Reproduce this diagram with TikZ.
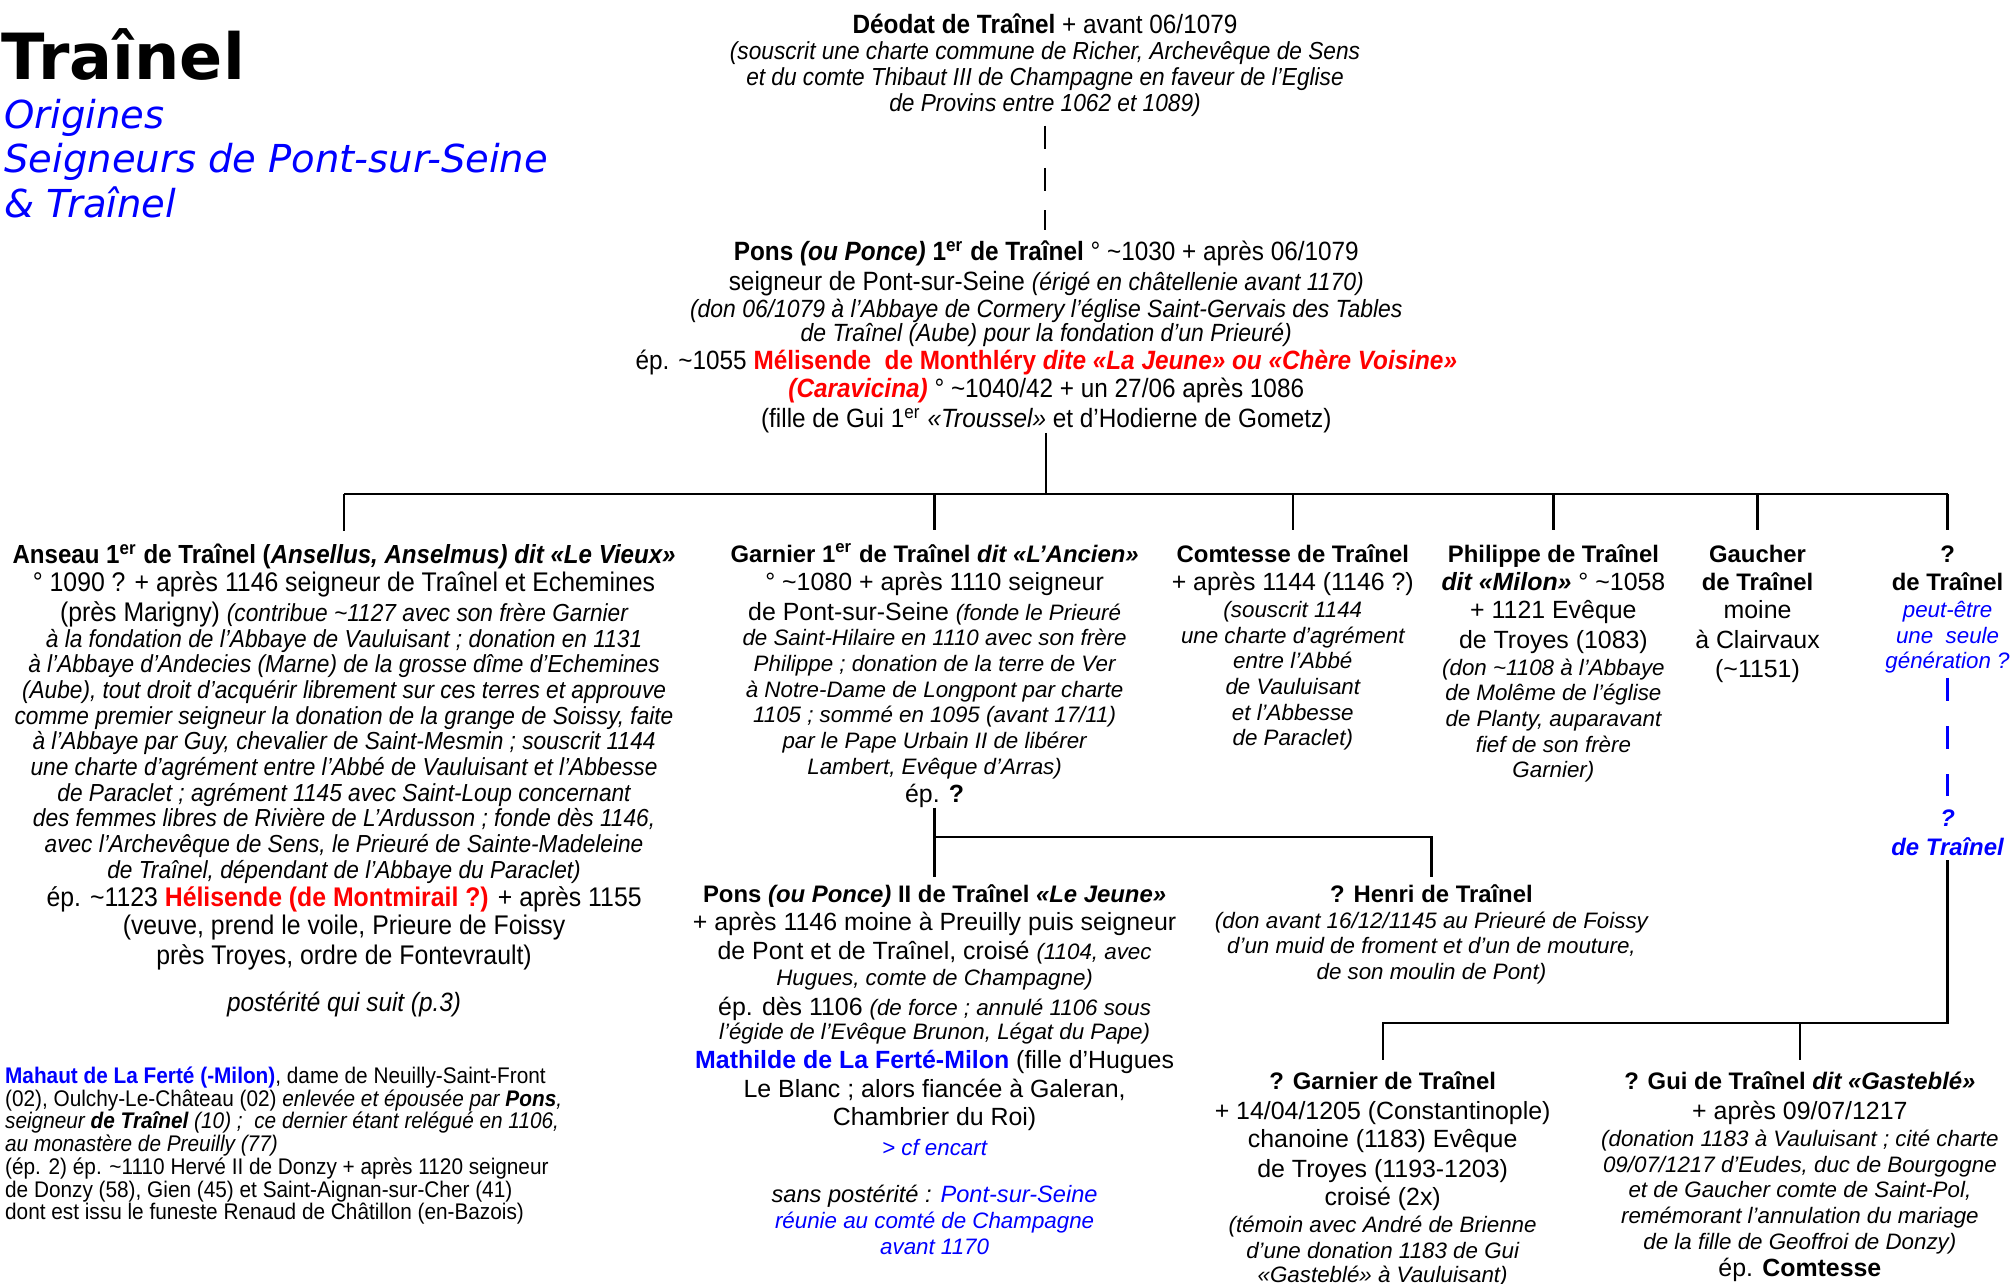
\documentclass[tikz,border=0pt]{standalone}
\usepackage{fontspec}
\setmainfont{Liberation Sans}
\newfontfamily\nar[FakeStretch=0.92]{Liberation Sans}
\newfontfamily\verd{DejaVu Sans}
\definecolor{bl}{RGB}{0,0,255}
\definecolor{rd}{RGB}{255,0,0}
\newcommand\tld{\symbol{126}}
\newcommand\itz[2]{{\fontsize{#1}{#1}\selectfont\itshape #2}}
\newcommand\bz[2]{{\fontsize{#1}{#1}\selectfont\bfseries #2}}
\newcommand\tst{\rule{0pt}{10pt}}
\newcommand\nols{\lineskiplimit=-100pt\lineskip=0pt\relax}
\tikzset{
  blk/.style={anchor=north, inner sep=0pt, outer sep=0pt, align=center},
  narblk/.style={blk, font={\nar\fontsize{10.3}{11}\selectfont\nols}},
  regblk/.style={blk, font={\fontsize{9.7}{10}\selectfont\nols}},
  conn/.style={line width=0.9pt},
  dsh/.style={line width=1pt, dash pattern=on 9pt off 7.5pt},
  bdsh/.style={line width=1pt, draw=bl, dash pattern=on 9pt off 9.75pt}
}
\begin{document}
\nols
\begin{tikzpicture}[x=0.5pt,y=-0.5pt]
\useasboundingbox (0,0) rectangle (1568,1000);

% title
\node[anchor=base west, inner sep=0pt, font={\verd\bfseries\fontsize{24.8}{24.8}\selectfont}] (title) at (1,62) {Traînel};
\node[anchor=north west, inner sep=0pt, align=left, text=bl, font={\verd\itshape\fontsize{15}{17.25}\selectfont\nols}] (sub) at (3,77) {\tst Origines\\Seigneurs de Pont-sur-Seine\\\& Traînel};

% Deodat
\node[narblk, font={\nar\fontsize{10.3}{10.2}\selectfont\nols}] (deo) at (814,6) {\tst\bz{10.3}{Déodat de Traînel} + avant 06/1079\\
\itz{9.6}{(souscrit une charte commune de Richer, Archevêque de Sens}\\
\itz{9.6}{et du comte Thibaut III de Champagne en faveur de l’Eglise}\\
\itz{9.6}{de Provins entre 1062 et 1089)}};

% Pons 1er
\node[narblk] (p1) at (815,183) {\tst\bz{10.3}{Pons \textit{(ou Ponce)} 1\textsuperscript{er} de Traînel} ° \tld1030 + après 06/1079\\[0.5pt]
seigneur de Pont-sur-Seine \itz{9.7}{(érigé en châtellenie avant 1170)}\\[-0.5pt]
\itz{9.7}{(don 06/1079 à l’Abbaye de Cormery l’église Saint-Gervais des Tables}\\[-1.5pt]
\itz{9.7}{de Traînel (Aube) pour la fondation d’un Prieuré)}\\
ép. \tld1055 \textcolor{rd}{\bfseries Mélisende\ \ de Monthléry \textit{dite «La Jeune» ou «Chère Voisine»}}\\
\textcolor{rd}{\bfseries\itshape (Caravicina)} ° \tld1040/42 + un 27/06 après 1086\\[0.5pt]
(fille de Gui 1\textsuperscript{er} \textit{«Troussel»} et d’Hodierne de Gometz)};

% Anseau
\node[blk, font={\nar\fontsize{10.5}{10}\selectfont\nols}] (ans) at (268,419) {\tst\bz{10.2}{Anseau 1\textsuperscript{er} de Traînel (\textit{Ansellus, Anselmus) dit «Le Vieux»}}\\[1pt]
° 1090 ? + après 1146 seigneur de Traînel et Echemines\\[1.5pt]
(près Marigny) \itz{9.6}{(contribue \tld1127 avec son frère Garnier}\\
\itz{9.6}{à la fondation de l’Abbaye de Vauluisant ; donation en 1131}\\
\itz{9.6}{à l’Abbaye d’Andecies (Marne) de la grosse dîme d’Echemines}\\
\itz{9.6}{(Aube), tout droit d’acquérir librement sur ces terres et approuve}\\
\itz{9.6}{comme premier seigneur la donation de la grange de Soissy, faite}\\
\itz{9.6}{à l’Abbaye par Guy, chevalier de Saint-Mesmin ; souscrit 1144}\\
\itz{9.6}{une charte d’agrément entre l’Abbé de Vauluisant et l’Abbesse}\\
\itz{9.6}{de Paraclet ; agrément 1145 avec Saint-Loup concernant}\\
\itz{9.6}{des femmes libres de Rivière de L’Ardusson ; fonde dès 1146,}\\
\itz{9.6}{avec l’Archevêque de Sens, le Prieuré de Sainte-Madeleine}\\
\itz{9.6}{de Traînel, dépendant de l’Abbaye du Paraclet)}\\[1pt]
ép. \tld1123 \textcolor{rd}{\bfseries Hélisende (de Montmirail ?)} + après 1155\\[1pt]
(veuve, prend le voile, Prieure de Foissy\\[1.5pt]
près Troyes, ordre de Fontevrault)\\[8.5pt]
\itz{10.3}{postérité qui suit (p.3)}};

% Garnier 1er
\node[regblk] (gar) at (728,418) {\tst\bz{9.3}{Garnier 1\textsuperscript{er} de Traînel \textit{dit «L’Ancien»}}\\[1pt]
° \tld1080 + après 1110 seigneur\\[1.5pt]
de Pont-sur-Seine \itz{8.7}{(fonde le Prieuré}\\
\itz{8.7}{de Saint-Hilaire en 1110 avec son frère}\\
\itz{8.7}{Philippe ; donation de la terre de Ver}\\
\itz{8.7}{à Notre-Dame de Longpont par charte}\\
\itz{8.7}{1105 ; sommé en 1095 (avant 17/11)}\\
\itz{8.7}{par le Pape Urbain II de libérer}\\
\itz{8.7}{Lambert, Evêque d’Arras)}\\[1pt]
ép. \textbf{?}};

% Comtesse
\node[regblk] (com) at (1007,418) {\tst\bz{9.3}{Comtesse de Traînel}\\[1pt]
+ après 1144 (1146 ?)\\[0.5pt]
\itz{8.7}{(souscrit 1144}\\
\itz{8.7}{une charte d’agrément}\\
\itz{8.7}{entre l’Abbé}\\
\itz{8.7}{de Vauluisant}\\
\itz{8.7}{et l’Abbesse}\\
\itz{8.7}{de Paraclet)}};

% Philippe
\node[regblk] (phi) at (1210,418) {\tst\bz{9.3}{Philippe de Traînel}\\[1pt]
{\bfseries\itshape dit «Milon»} ° \tld1058\\[1pt]
+ 1121 Evêque\\[1.5pt]
de Troyes (1083)\\[0.5pt]
\itz{8.7}{(don \tld1108 à l’Abbaye}\\
\itz{8.7}{de Molême de l’église}\\
\itz{8.7}{de Planty, auparavant}\\
\itz{8.7}{fief de son frère}\\
\itz{8.7}{Garnier)}};

% Gaucher
\node[regblk, font={\fontsize{9.7}{11}\selectfont\nols}] (gau) at (1369,418) {\tst\bz{9.3}{Gaucher}\\
\bz{9.3}{de Traînel}\\
moine\\[0.5pt]
à Clairvaux\\[0.5pt]
(\tld1151)};

% ? de Trainel
\node[regblk] (q1) at (1517,418) {\tst\bz{9.3}{?}\\[1pt]
\bz{9.3}{de Traînel}\\[0.5pt]
\textcolor{bl}{\itz{8.7}{peut-être}}\\
\textcolor{bl}{\itz{8.7}{une\ \ seule}}\\
\textcolor{bl}{\itz{8.7}{génération ?}}};

\node[regblk, font={\fontsize{9.3}{11}\selectfont\bfseries\itshape\nols}, text=bl] (q2) at (1517,624) {\tst ?\\de Traînel};

% Pons II
\node[regblk, font={\fontsize{9.7}{11}\selectfont\nols}] (pon2) at (728,683) {\tst\bz{9.3}{Pons \textit{(ou Ponce)} II de Traînel \textit{«Le Jeune»}}\\
+ après 1146 moine à Preuilly puis seigneur\\
de Pont et de Traînel, croisé \itz{8.7}{(1104, avec}\\[-0.5pt]
\itz{8.7}{Hugues, comte de Champagne)}\\[0.5pt]
ép. dès 1106 \itz{8.7}{(de force ; annulé 1106 sous}\\[-1.5pt]
\itz{8.7}{l’égide de l’Evêque Brunon, Légat du Pape)}\\
\textcolor{bl}{\bfseries Mathilde de La Ferté-Milon} (fille d’Hugues\\[0.5pt]
Le Blanc ; alors fiancée à Galeran,\\
Chambrier du Roi)\\[0.5pt]
\textcolor{bl}{\itz{8.7}{> cf encart}}\\[7.5pt]
\itz{9.2}{sans postérité : \textcolor{bl}{Pont-sur-Seine}}\\[-1pt]
\textcolor{bl}{\itz{8.7}{réunie au comté de Champagne}}\\[-1pt]
\textcolor{bl}{\itz{8.7}{avant 1170}}};

% Henri
\node[regblk] (hen) at (1115,683) {\tst\bz{9.3}{? Henri de Traînel}\\
\itz{8.7}{(don avant 16/12/1145 au Prieuré de Foissy}\\
\itz{8.7}{d’un muid de froment et d’un de mouture,}\\
\itz{8.7}{de son moulin de Pont)}};

% Garnier ?
\node[regblk, font={\fontsize{9.7}{11}\selectfont\nols}] (garq) at (1077,829) {\tst\bz{9.3}{? Garnier de Traînel}\\[0.5pt]
+ 14/04/1205 (Constantinople)\\
chanoine (1183) Evêque\\[0.5pt]
de Troyes (1193-1203)\\
croisé (2x)\\[-0.5pt]
\itz{8.7}{(témoin avec André de Brienne}\\[-1pt]
\itz{8.7}{d’une donation 1183 de Gui}\\[-1.5pt]
\itz{8.7}{«Gasteblé» à Vauluisant)}};

% Gui
\node[regblk] (gui) at (1402,829) {\tst\bz{9.3}{? Gui de Traînel \textit{dit «Gasteblé»}}\\[1.5pt]
+ après 09/07/1217\\[0.5pt]
\itz{8.7}{(donation 1183 à Vauluisant ; cité charte}\\
\itz{8.7}{09/07/1217 d’Eudes, duc de Bourgogne}\\
\itz{8.7}{et de Gaucher comte de Saint-Pol,}\\
\itz{8.7}{remémorant l’annulation du mariage}\\
\itz{8.7}{de la fille de Geoffroi de Donzy)}\\[0.5pt]
ép. \textbf{Comtesse}};

% Mahaut
\node[anchor=north west, inner sep=0pt, outer sep=0pt, align=left, font={\nar\fontsize{8.8}{8.85}\selectfont\nols}] (mah) at (4,824) {\tst\textcolor{bl}{\bfseries Mahaut de La Ferté (-Milon)}, dame de Neuilly-Saint-Front\\
(02), Oulchy-Le-Château (02) \textit{enlevée et épousée par \textbf{Pons},}\\
\textit{seigneur \textbf{de Traînel} (10) ;\ \ ce dernier étant relégué en 1106,}\\
\textit{au monastère de Preuilly (77)}\\
(ép. 2) ép. \tld1110 Hervé II de Donzy + après 1120 seigneur\\
de Donzy (58), Gien (45) et Saint-Aignan-sur-Cher (41)\\
dont est issu le funeste Renaud de Châtillon (en-Bazois)};

% connectors
\coordinate (bus1) at (812,385);
\coordinate (bus2) at (729,652);
\coordinate (bus3) at (1517,797);

\draw[dsh, shorten <=3.3pt, shorten >=2pt] (deo.south) -- (deo.south |- p1.north);
\draw[conn] (p1.south) -- (p1.south |- bus1);
\draw[conn] (ans.north |- bus1) -- (q1.north |- bus1);
\foreach \n in {ans,gar,com,phi,gau,q1}
  \draw[conn] (\n.north |- bus1) -- ([yshift=2.5pt]\n.north);
\draw[conn] (gar.south) -- (pon2.north);
\draw[conn] (gar.south |- bus2) -- (hen.north |- bus2) -- (hen.north);
\draw[bdsh, shorten <=1.7pt, shorten >=2pt] (q1.south) -- (q2.north);
\draw[conn, shorten <=2pt] (q2.south) -- (q2.south |- bus3) -- (garq.north |- bus3) -- ([yshift=1.5pt]garq.north);
\draw[conn] (gui.north |- bus3) -- ([yshift=1.5pt]gui.north);
\end{tikzpicture}
\end{document}
